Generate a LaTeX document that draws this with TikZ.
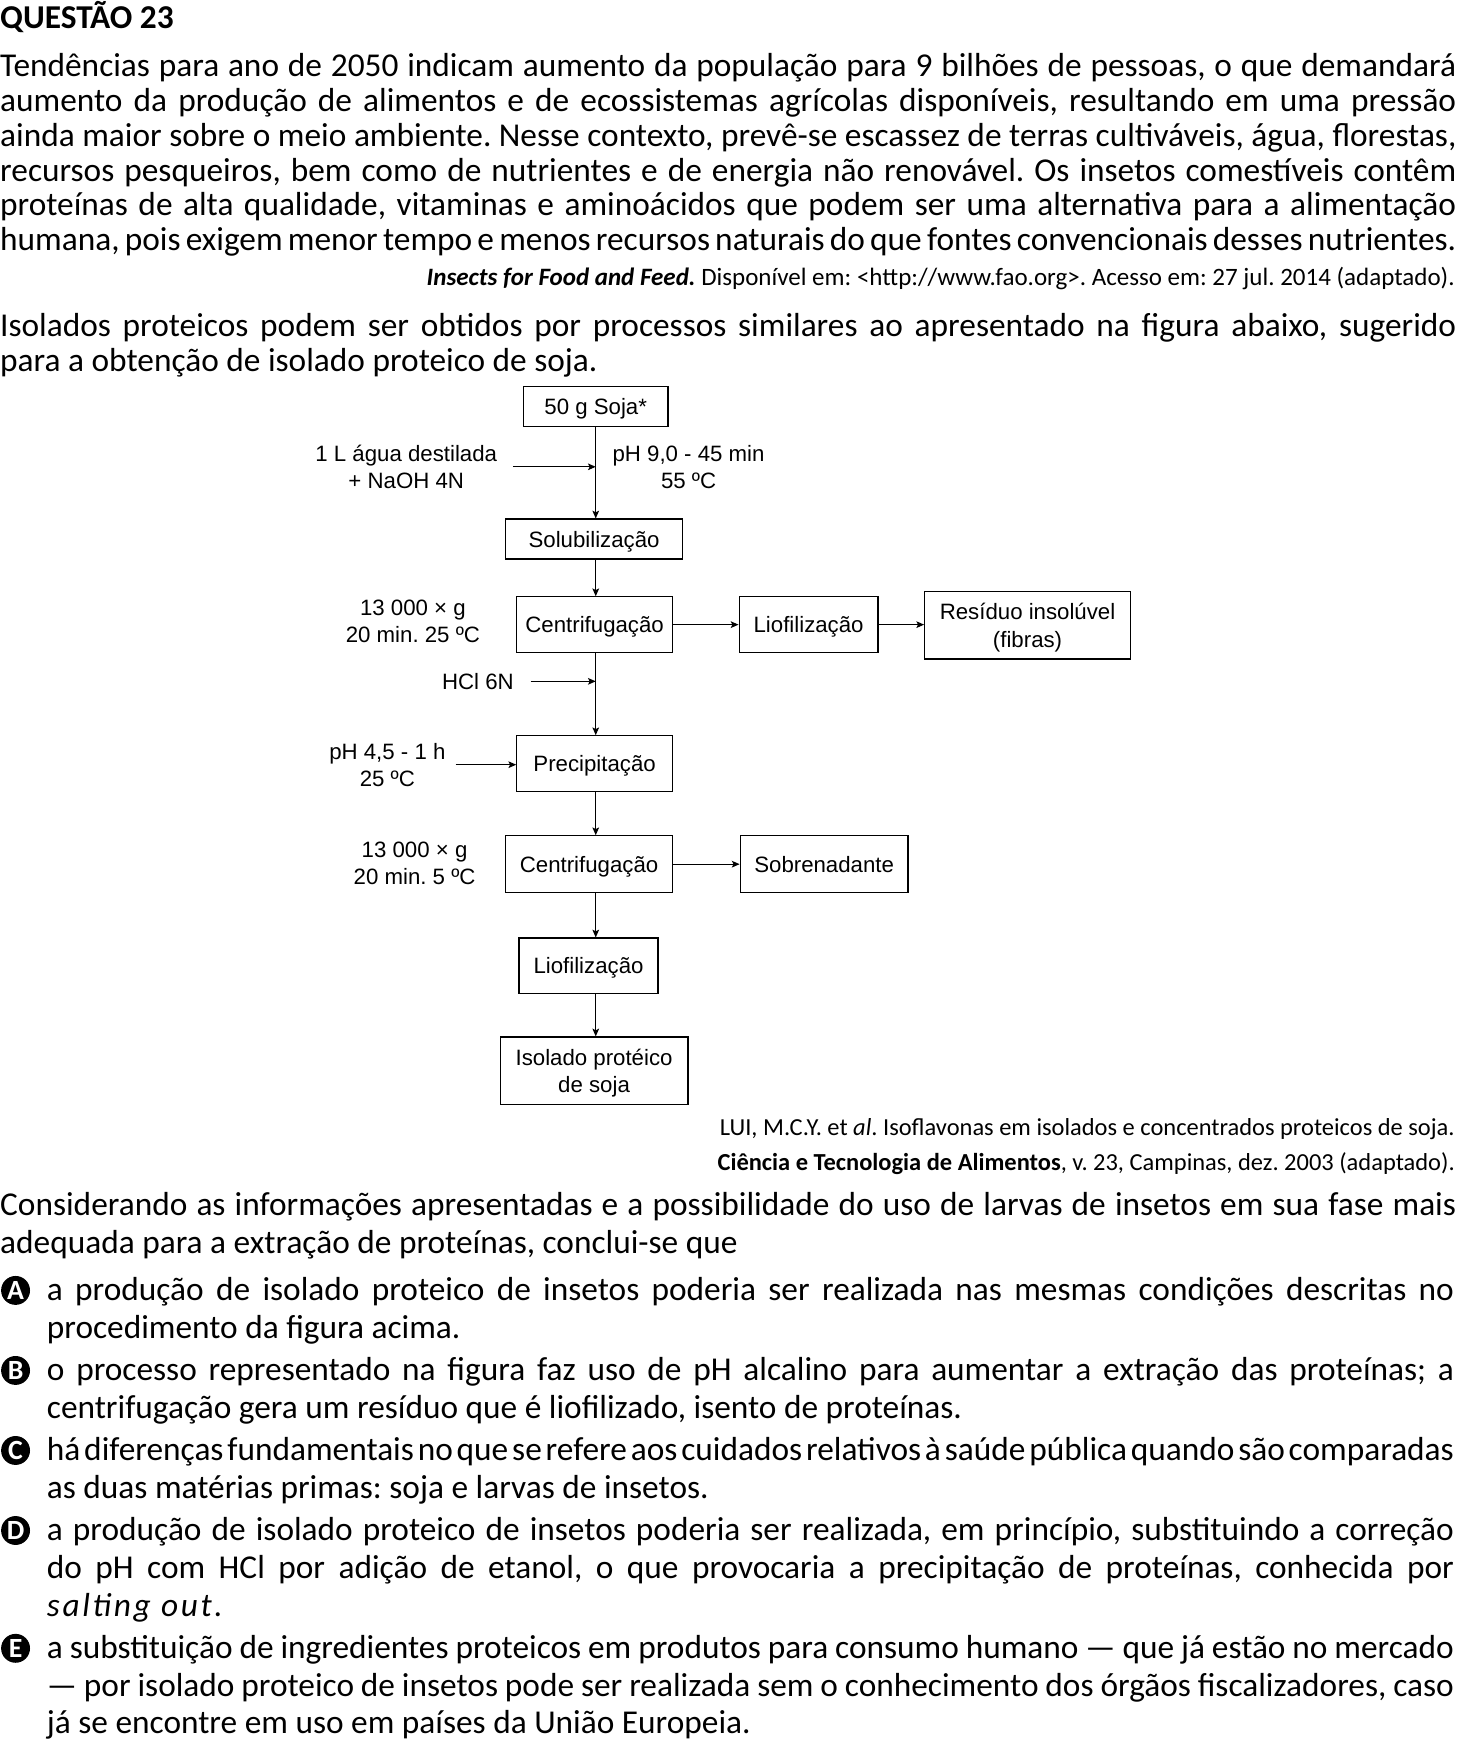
\documentclass[tikz,border=0pt]{standalone}
\usepackage{fontspec}
\setmainfont{Carlito}[WordSpace={1,1.5,2.2}]
\newfontfamily\diagfont{Liberation Sans}
\usetikzlibrary{arrows.meta, positioning}
\tolerance=10000 \hbadness=10000
\hyphenpenalty=10000 \exhyphenpenalty=10000
\frenchspacing

\begin{document}
\begin{tikzpicture}[x=1pt, y=-1pt,
    body/.style={anchor=base west, inner sep=0pt, text width=1310pt, align=justify, font=\fontsize{30}{31.3}\selectfont},
    opt/.style={anchor=base west, inner sep=0pt, text width=1266pt, align=justify, font=\fontsize{30}{34}\selectfont},
    letter/.style={circle, fill=black, text=white, inner sep=0pt, minimum size=26pt, font=\bfseries\fontsize{25}{25}\selectfont},
    note/.style={anchor=base east, inner sep=0pt, align=right, font=\fontsize{22}{31}\selectfont},
    box/.style={draw, line width=1.1pt, inner sep=0pt, text depth=0pt, align=center},
    lbl/.style={inner sep=0pt, align=center},
    flow/.style={line width=1pt, -{Stealth[length=7pt, width=6pt, inset=1.5pt]}}]
  \useasboundingbox (0,0) rectangle (1310,1568.2);

  % texto da questao
  \node[anchor=base west, inner sep=0pt, font=\bfseries\fontsize{30}{30}\selectfont] (title) at (0,26) {QUESTÃO 23};
  \node[body] (intro) at (0,69) {\parfillskip=0pt Tendências para ano de 2050 indicam aumento da população para 9 bilhões de pessoas, o que demandará\linebreak
    aumento da produção de alimentos e de ecossistemas agrícolas disponíveis, resultando em uma pressão\linebreak
    ainda maior sobre o meio ambiente. Nesse contexto, prevê-se escassez de terras cultiváveis, água, florestas,\linebreak
    recursos pesqueiros, bem como de nutrientes e de energia não renovável. Os insetos comestíveis contêm\linebreak
    proteínas de alta qualidade, vitaminas e aminoácidos que podem ser uma alternativa para a alimentação\linebreak
    humana, pois exigem menor tempo e menos recursos naturais do que fontes convencionais desses nutrientes.};
  \node[note, font=\fontsize{22.5}{31}\selectfont] (fonte) at (1309,257) {\textbf{\textit{Insects for Food and Feed.}} Disponível em: <http://www.fao.org>. Acesso em: 27 jul. 2014 (adaptado).};
  \node[body] (isolados) at (0,303) {Isolados proteicos podem ser obtidos por processos similares ao apresentado na figura abaixo, sugerido\linebreak
    para a obtenção de isolado proteico de soja.};

  % fluxograma
  \begin{scope}[font=\diagfont\fontsize{20}{24.5}\selectfont]
    \node[box, minimum width=130, minimum height=36] (soja) at (536,366) {50 g Soja*};
    \node[box, minimum width=159, minimum height=36] (solub) at (534.5,485) {Solubilização};
    \node[box, minimum width=140, minimum height=50] (cent1) at (535,562) {Centrifugação};
    \node[box, minimum width=125, minimum height=50] (liof1) at (727.5,562) {Liofilização};
    \node[box, minimum width=185, minimum height=61] (resid) at (924.5,562.5) {Resíduo insolúvel\\(fibras)};
    \node[box, minimum width=140, minimum height=50] (precip) at (535,687) {Precipitação};
    \node[box, minimum width=150, minimum height=51] (cent2) at (530,777.5) {Centrifugação};
    \node[box, minimum width=151, minimum height=51] (sobre) at (741.5,777.5) {Sobrenadante};
    \node[box, minimum width=125, minimum height=50] (liof2) at (529.5,869) {Liofilização};
    \node[box, minimum width=169, minimum height=61] (isol) at (534.5,963.5) {Isolado protéico\\de soja};

    \node[lbl] (agua) at (365.5,420) {1 L água destilada\\+ NaOH 4N};
    \node[lbl] (ph9) at (619.5,420) {pH 9,0 - 45 min\\55 ºC};
    \node[lbl] (g1) at (371.5,559) {13 000 × g\\20 min. 25 ºC};
    \node[lbl] (hcl) at (430,613) {HCl 6N};
    \node[lbl] (ph45) at (348.5,688) {pH 4,5 - 1 h\\25 ºC};
    \node[lbl] (g2) at (373,776.5) {13 000 × g\\20 min. 5 ºC};

    \draw[flow] (soja.south) -- (soja.south |- solub.north);
    \draw[flow] (solub.south -| soja.south) -- (soja.south |- cent1.north);
    \draw[flow] (cent1.south -| soja.south) -- (soja.south |- precip.north);
    \draw[flow] (precip.south -| soja.south) -- (soja.south |- cent2.north);
    \draw[flow] (cent2.south -| soja.south) -- (soja.south |- liof2.north);
    \draw[flow] (liof2.south -| soja.south) -- (soja.south |- isol.north);
    \draw[flow] (cent1.east) -- (liof1.west);
    \draw[flow] (liof1.east) -- (liof1.east -| resid.west);
    \draw[flow] (cent2.east) -- (sobre.west);
    \draw[flow] ([xshift=14pt]agua.east) -- (agua.east -| soja.south);
    \draw[flow] ([xshift=15pt]hcl.east) -- (hcl.east -| soja.south);
    \draw[flow] ([xshift=9pt]ph45.east) -- (ph45.east -| precip.west);
  \end{scope}

  \node[note] (lui) at (1309,1053) {LUI, M.C.Y. et \textit{al}. Isoflavonas em isolados e concentrados proteicos de soja.\\
    \textbf{Ciência e Tecnologia de Alimentos}, v. 23, Campinas, dez. 2003 (adaptado).};

  % enunciado e alternativas
  \node[body, font=\fontsize{30}{34}\selectfont] (enunc) at (0,1094) {Considerando as informações apresentadas e a possibilidade do uso de larvas de insetos em sua fase mais\linebreak
    adequada para a extração de proteínas, conclui-se que};

  \node[letter] (la) at (14,1161) {A};
  \node[opt] (oa) at (42,1170) {a produção de isolado proteico de insetos poderia ser realizada nas mesmas condições descritas no\linebreak
    procedimento da figura acima.};
  \node[letter] (lb) at (14,1233) {B};
  \node[opt] (ob) at (42,1242) {o processo representado na figura faz uso de pH alcalino para aumentar a extração das proteínas; a\linebreak
    centrifugação gera um resíduo que é liofilizado, isento de proteínas.};
  \node[letter] (lc) at (14,1305) {C};
  \node[opt] (oc) at (42,1314) {há diferenças fundamentais no que se refere aos cuidados relativos à saúde pública quando são comparadas\linebreak
    as duas matérias primas: soja e larvas de insetos.};
  \node[letter] (ld) at (14,1377) {D};
  \node[opt] (od) at (42,1386) {a produção de isolado proteico de insetos poderia ser realizada, em princípio, substituindo a correção\linebreak
    do pH com HCl por adição de etanol, o que provocaria a precipitação de proteínas, conhecida por\linebreak
    {\itshape\addfontfeatures{LetterSpace=8}salting out.}};
  \node[letter] (le) at (14,1483) {E};
  \node[opt] (oe) at (42,1492) {a substituição de ingredientes proteicos em produtos para consumo humano — que já estão no mercado\linebreak
    — por isolado proteico de insetos pode ser realizada sem o conhecimento dos órgãos fiscalizadores, caso\linebreak
    já se encontre em uso em países da União Europeia.};
\end{tikzpicture}
\end{document}
